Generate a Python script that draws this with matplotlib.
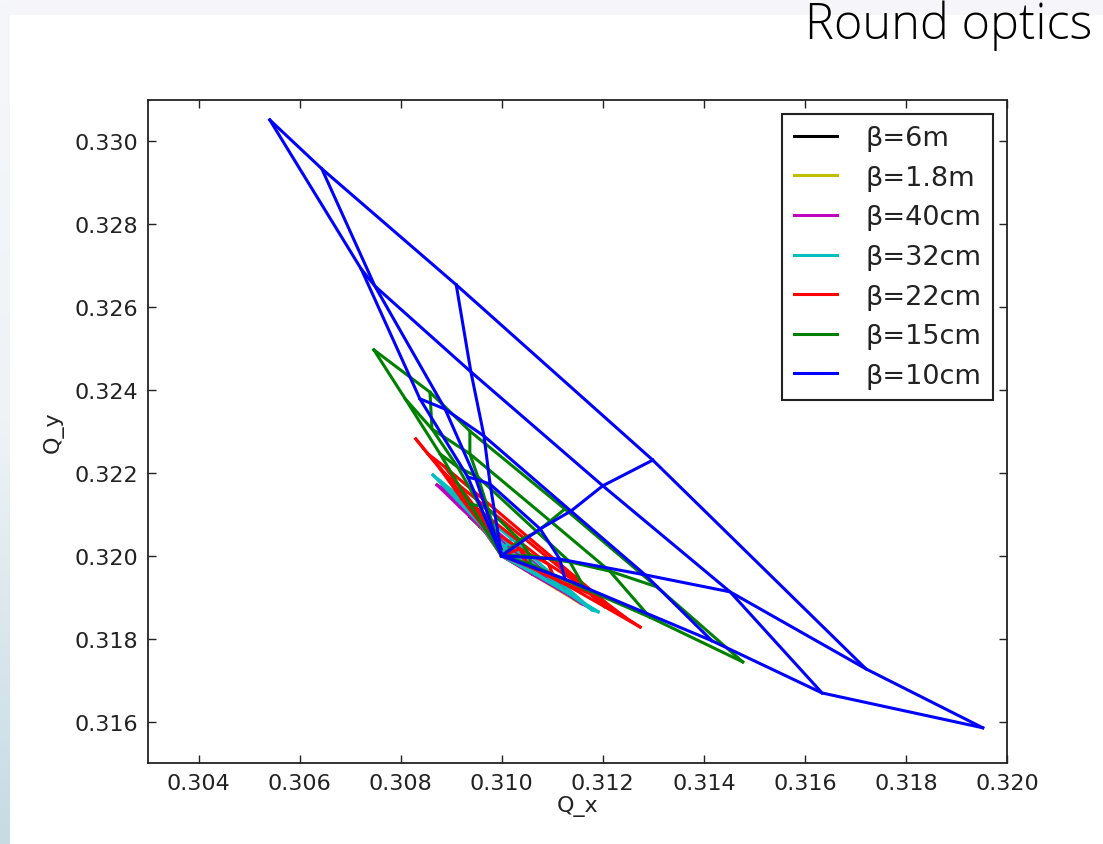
import numpy as np
import matplotlib
matplotlib.use("Agg")
import matplotlib.pyplot as plt
from matplotlib.colors import LinearSegmentedColormap

plt.rcParams["font.family"] = ["DejaVu Sans"]

# ---------------- data (tune footprints: rows = angles, columns = amplitudes) ----------------
labels = ["β=6m", "β=1.8m", "β=40cm", "β=32cm", "β=22cm", "β=15cm", "β=10cm"]
colors = ["k", "y", "m", "c", "r", "g", "b"]

qx_6m = [[0.310, 0.30977, 0.30957, 0.30937],
         [0.310, 0.30981, 0.30965, 0.30949],
         [0.310, 0.31005, 0.31007, 0.31009],
         [0.310, 0.31036, 0.31066, 0.31096],
         [0.310, 0.31040, 0.31072, 0.31106]]
qy_6m = [[0.320, 0.32046, 0.32070, 0.32094],
         [0.320, 0.32043, 0.32065, 0.32084],
         [0.320, 0.32014, 0.32017, 0.32019],
         [0.320, 0.31980, 0.31956, 0.31932],
         [0.320, 0.31976, 0.31951, 0.31927]]

qx_1p8m = [[0.310, 0.30967, 0.30927, 0.30888],
           [0.310, 0.30973, 0.30937, 0.30902],
           [0.310, 0.31007, 0.31009, 0.31012],
           [0.310, 0.31052, 0.31106, 0.31145],
           [0.310, 0.31056, 0.31109, 0.31155]]
qy_1p8m = [[0.320, 0.32058, 0.32108, 0.32157],
           [0.320, 0.32055, 0.32103, 0.32147],
           [0.320, 0.32017, 0.32021, 0.32026],
           [0.320, 0.31963, 0.31925, 0.31894],
           [0.320, 0.31959, 0.31920, 0.31886]]

qx_40cm = [[0.310, 0.30963, 0.30917, 0.30872],
           [0.310, 0.30969, 0.30927, 0.30886],
           [0.310, 0.31007, 0.31011, 0.31016],
           [0.310, 0.31056, 0.31115, 0.31159],
           [0.310, 0.31060, 0.31119, 0.31171]]
qy_40cm = [[0.320, 0.32065, 0.32118, 0.32171],
           [0.320, 0.32062, 0.32113, 0.32161],
           [0.320, 0.32019, 0.32026, 0.32033],
           [0.320, 0.31961, 0.31920, 0.31884],
           [0.320, 0.31956, 0.31915, 0.31877]]

qx_32cm = [[0.310, 0.30961, 0.30912, 0.30864],
           [0.310, 0.30967, 0.30921, 0.30878],
           [0.310, 0.31007, 0.31012, 0.31020],
           [0.310, 0.31062, 0.31127, 0.31179],
           [0.310, 0.31066, 0.31131, 0.31191]]
qy_32cm = [[0.320, 0.32072, 0.32135, 0.32195],
           [0.320, 0.32070, 0.32130, 0.32181],
           [0.320, 0.32021, 0.32031, 0.32041],
           [0.320, 0.31961, 0.31915, 0.31869],
           [0.320, 0.31956, 0.31910, 0.31865]]

qx_22cm = [[0.310, 0.30967, 0.30921, 0.30878, 0.30830],
           [0.310, 0.30973, 0.30933, 0.30894, 0.30854],
           [0.310, 0.30981, 0.30947, 0.30913, 0.30888],
           [0.310, 0.31036, 0.31092, 0.31155, 0.31204],
           [0.310, 0.31052, 0.31106, 0.31175, 0.31244],
           [0.310, 0.31056, 0.31125, 0.31204, 0.31274]]
qy_22cm = [[0.320, 0.32065, 0.32137, 0.32210, 0.32282],
           [0.320, 0.32065, 0.32130, 0.32190, 0.32246],
           [0.320, 0.32060, 0.32118, 0.32173, 0.32214],
           [0.320, 0.32017, 0.31980, 0.31932, 0.31889],
           [0.320, 0.31978, 0.31944, 0.31908, 0.31852],
           [0.320, 0.31973, 0.31932, 0.31877, 0.31828]]

qx_15cm = [[0.310, 0.30937, 0.30878, 0.30809, 0.30747],
           [0.310, 0.30957, 0.30913, 0.30862, 0.30858],
           [0.310, 0.30973, 0.30953, 0.30937, 0.30937],
           [0.310, 0.31036, 0.31070, 0.31096, 0.31125],
           [0.310, 0.31056, 0.31135, 0.31214, 0.31307],
           [0.310, 0.31056, 0.31165, 0.31293, 0.31477]]
qy_15cm = [[0.320, 0.32125, 0.32246, 0.32379, 0.32497],
           [0.320, 0.32120, 0.32214, 0.32306, 0.32395],
           [0.320, 0.32113, 0.32190, 0.32246, 0.32301],
           [0.320, 0.32038, 0.32058, 0.32084, 0.32113],
           [0.320, 0.32000, 0.31985, 0.31963, 0.31925],
           [0.320, 0.31980, 0.31920, 0.31852, 0.31744]]

qx_10cm = [[0.310, 0.30933, 0.30838, 0.30722, 0.30541],
           [0.310, 0.30949, 0.30888, 0.30749, 0.30644],
           [0.310, 0.30977, 0.30965, 0.30939, 0.30910],
           [0.310, 0.31076, 0.31137, 0.31200, 0.31299],
           [0.310, 0.31115, 0.31284, 0.31452, 0.31721],
           [0.310, 0.31125, 0.31416, 0.31634, 0.31952]]
qy_10cm = [[0.320, 0.32190, 0.32379, 0.32692, 0.33052],
           [0.320, 0.32185, 0.32354, 0.32651, 0.32934],
           [0.320, 0.32173, 0.32289, 0.32444, 0.32654],
           [0.320, 0.32065, 0.32108, 0.32169, 0.32231],
           [0.320, 0.31992, 0.31954, 0.31913, 0.31727],
           [0.320, 0.31944, 0.31795, 0.31669, 0.31585]]

footprints = [(qx_6m, qy_6m), (qx_1p8m, qy_1p8m), (qx_40cm, qy_40cm), (qx_32cm, qy_32cm),
              (qx_22cm, qy_22cm), (qx_15cm, qy_15cm), (qx_10cm, qy_10cm)]

xticks = [0.304, 0.306, 0.308, 0.310, 0.312, 0.314, 0.316, 0.318, 0.320]
yticks = [0.316, 0.318, 0.320, 0.322, 0.324, 0.326, 0.328, 0.330]

# ---------------- figure ----------------
W, H = 1103, 845
fig = plt.figure(figsize=(W / 100, H / 100), dpi=100)
fig.patch.set_facecolor("white")

# slide-like background strips
bg = fig.add_axes([0, 0, 1, 1], zorder=-10)
bg.set_xlim(0, W)
bg.set_ylim(H, 0)
bg.axis("off")
bg.add_patch(plt.Rectangle((0, 0), W, 16, color="#f6f6fa", lw=0))
grad = np.linspace(0, 1, 256).reshape(-1, 1)
cmap = LinearSegmentedColormap.from_list("strip", ["#f6f7fb", "#eef3f6", "#c6dbe4"])
bg.imshow(grad, extent=(0, 10, H, 0), cmap=cmap, aspect="auto", zorder=1)

ax = fig.add_axes([148 / W, 1 - 764 / H, (1007 - 148) / W, (764 - 101) / H])

for (qx, qy), col, lab in zip(footprints, colors, labels):
    X = np.array(qx)
    Y = np.array(qy)
    first = True
    for j in range(X.shape[0]):
        ax.plot(X[j], Y[j], color=col, lw=2.2, label=lab if first else None)
        first = False
    for i in range(1, X.shape[1]):
        ax.plot(X[:, i], Y[:, i], color=col, lw=2.2)

ax.set_xlim(0.303, 0.320)
ax.set_ylim(0.315, 0.331)
ax.set_xticks(xticks)
ax.set_yticks(yticks)
ax.set_xticklabels([f"{v:.3f}" for v in xticks])
ax.set_yticklabels([f"{v:.3f}" for v in yticks])
ax.tick_params(direction="in", top=True, right=True, length=6, width=1,
               labelsize=16, pad=7, colors="#222222")
for s in ax.spines.values():
    s.set_linewidth(1.3)
    s.set_color("#222222")
ax.set_xlabel("Q_x", fontsize=16, labelpad=2, color="#222222")
ax.set_ylabel("Q_y", fontsize=16, labelpad=8, color="#222222")

leg = ax.legend(loc="upper right", bbox_to_anchor=((993 - 148) / 859, 1 - 14 / 663),
                borderaxespad=0, fontsize=19.5, handlelength=1.6, handletextpad=1.05,
                labelspacing=0.5, borderpad=0.42, fancybox=False, framealpha=1)
leg.get_frame().set_edgecolor("#222222")
leg.get_frame().set_linewidth(1.5)
for t in leg.get_texts():
    t.set_color("#222222")

fig.text(1092 / W, 1 - 39 / H, "Round optics", ha="right", va="baseline",
         fontsize=35, family=["Open Sans", "DejaVu Sans"], fontweight="light",
         color="black")

fig.savefig("out.png", dpi=100, facecolor=fig.get_facecolor())
